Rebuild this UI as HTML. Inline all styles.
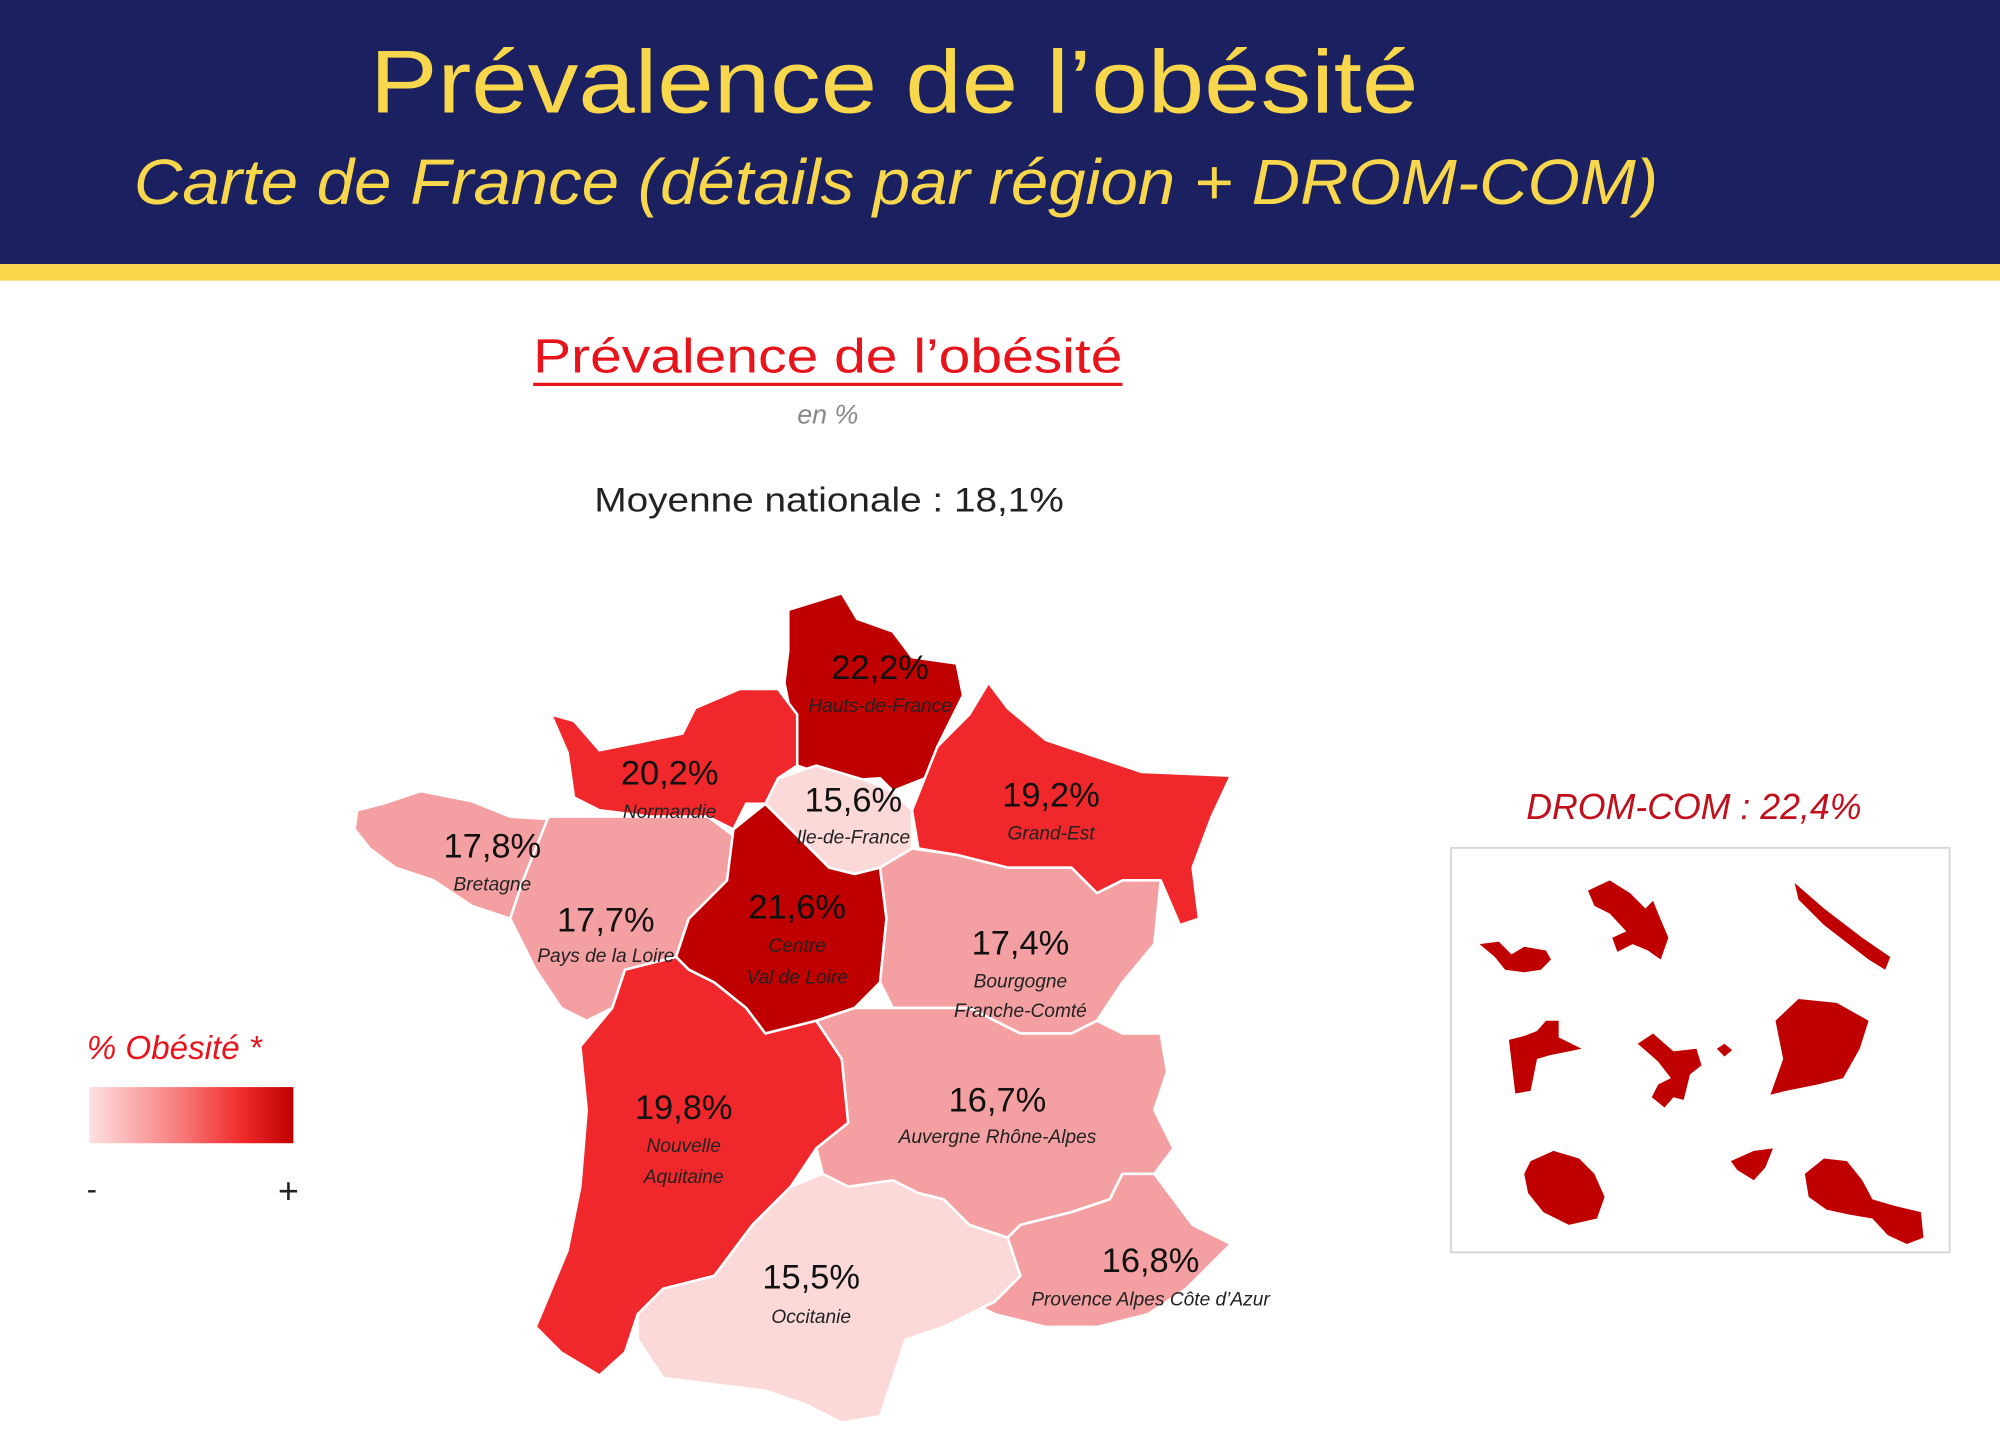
<!DOCTYPE html>
<html><head><meta charset="utf-8">
<style>
html,body{margin:0;padding:0;background:#fff;}
svg{display:block;}
text{font-family:"Liberation Sans","DejaVu Sans",sans-serif;}
</style></head>
<body>
<svg width="2000" height="1452" viewBox="0 0 1568 1138" preserveAspectRatio="none" xmlns="http://www.w3.org/2000/svg">
<defs>
<linearGradient id="g" x1="0" x2="1" y1="0" y2="0">
<stop offset="0" stop-color="#fde0e0"/><stop offset="0.45" stop-color="#f87a7a"/><stop offset="0.75" stop-color="#f02a2a"/><stop offset="1" stop-color="#c00000"/>
</linearGradient>
</defs>
<rect x="0" y="0" width="1568" height="207" fill="#1a2060"/>
<rect x="0" y="207" width="1568" height="13" fill="#f9d74c"/>
<text x="290" y="88" font-size="70" fill="#f9d74c" textLength="822" lengthAdjust="spacingAndGlyphs">Prévalence de l’obésité</text>
<text x="105" y="160" font-size="50" font-style="italic" fill="#f9d74c" textLength="1195" lengthAdjust="spacingAndGlyphs">Carte de France (détails par région + DROM-COM)</text>

<text x="418" y="292" font-size="38" fill="#e8141c" textLength="462" lengthAdjust="spacingAndGlyphs">Prévalence de l’obésité</text>
<rect x="418" y="300" width="462" height="2.5" fill="#e8141c"/>
<text x="649" y="332" font-size="21" font-style="italic" fill="#888" text-anchor="middle">en %</text>
<text x="466" y="401" font-size="27" fill="#222" textLength="368" lengthAdjust="spacingAndGlyphs">Moyenne nationale : 18,1%</text>

<g stroke="#fff" stroke-width="2" stroke-linejoin="round">
<polygon fill="#c00000" points="618,478 660,465 672,485 700,495 715,515 750,520 755,545 735,585 725,610 700,620 690,610 660,612 625,600 620,560 615,535 618,510"/>
<polygon fill="#f0282c" points="432,560 450,565 470,588 500,582 535,575 545,555 580,540 610,540 625,560 625,600 610,610 605,630 585,630 575,650 555,640 510,640 470,635 450,625 445,590"/>
<polygon fill="#f0282c" points="735,585 760,560 775,535 790,555 820,580 850,590 895,605 965,608 950,640 935,680 940,720 925,725 910,690 880,690 860,700 840,680 790,680 750,670 720,665 715,635 725,610"/>
<polygon fill="#fbd9d9" points="610,610 640,600 680,612 700,620 715,635 715,665 690,680 670,685 650,680 630,660 610,640 600,630"/>
<polygon fill="#f4a0a2" points="280,635 300,630 330,620 370,628 400,640 430,642 470,638 455,660 430,700 410,690 400,720 370,710 340,690 310,680 290,665 278,650"/>
<polygon fill="#f4a0a2" points="430,640 510,640 555,640 575,655 570,690 540,720 530,750 490,760 480,790 460,800 440,790 420,760 410,740 400,720 410,690"/>
<polygon fill="#c00000" points="575,650 600,630 630,660 650,680 670,685 690,680 695,720 690,770 670,790 640,800 600,810 585,790 560,770 540,760 530,750 540,720 570,690"/>
<polygon fill="#f4a0a2" points="690,680 715,665 750,670 790,680 840,680 860,700 880,690 910,690 905,740 880,770 860,800 840,810 800,810 760,790 720,790 700,790 690,770 695,720"/>
<polygon fill="#f0282c" points="480,790 490,760 530,750 540,760 560,770 585,790 600,810 640,800 660,830 665,880 640,900 620,930 590,960 575,980 560,1000 520,1010 500,1030 490,1060 470,1078 440,1060 420,1040 445,980 455,930 460,870 455,820"/>
<polygon fill="#fbd9d9" points="575,980 590,960 620,930 645,920 665,930 700,925 720,935 740,940 760,960 790,970 800,1000 780,1020 740,1040 710,1050 700,1080 690,1110 660,1115 630,1100 600,1090 560,1085 520,1080 500,1050 500,1030 520,1010 560,1000"/>
<polygon fill="#f4a0a2" points="700,790 720,790 760,790 800,810 840,810 860,800 880,810 910,810 915,840 905,870 920,900 905,920 880,920 870,940 840,950 800,960 790,970 760,960 740,940 720,935 700,925 665,930 645,920 640,900 665,880 660,830 640,800 670,790"/>
<polygon fill="#f4a0a2" points="790,970 800,960 840,950 870,940 880,920 905,920 920,940 935,960 965,975 950,990 930,1010 900,1030 860,1040 820,1040 780,1030 770,1025 780,1020 800,1000"/>
</g>

<g fill="#111" font-size="27" text-anchor="middle">
<text x="690" y="532">22,2%</text>
<text x="525" y="615">20,2%</text>
<text x="669" y="636">15,6%</text>
<text x="824" y="632">19,2%</text>
<text x="386" y="672">17,8%</text>
<text x="475" y="730">17,7%</text>
<text x="625" y="720">21,6%</text>
<text x="800" y="748">17,4%</text>
<text x="536" y="877">19,8%</text>
<text x="782" y="871">16,7%</text>
<text x="636" y="1010">15,5%</text>
<text x="902" y="997">16,8%</text>
</g>
<g fill="#222" font-size="15" font-style="italic" text-anchor="middle">
<text x="690" y="558">Hauts-de-France</text>
<text x="525" y="641">Normandie</text>
<text x="669" y="661">Ile-de-France</text>
<text x="824" y="658">Grand-Est</text>
<text x="386" y="698">Bretagne</text>
<text x="475" y="754">Pays de la Loire</text>
<text x="625" y="746">Centre</text>
<text x="625" y="771">Val de Loire</text>
<text x="800" y="774">Bourgogne</text>
<text x="800" y="797">Franche-Comté</text>
<text x="536" y="903">Nouvelle</text>
<text x="536" y="927">Aquitaine</text>
<text x="782" y="896">Auvergne Rhône-Alpes</text>
<text x="636" y="1037">Occitanie</text>
<text x="902" y="1023">Provence Alpes Côte d’Azur</text>
</g>

<text x="68" y="830" font-size="26" font-style="italic" fill="#e8141c">% Obésité *</text>
<rect x="70" y="852" width="160" height="44" fill="url(#g)"/>
<text x="68" y="940" font-size="24" fill="#222">-</text>
<text x="218" y="943" font-size="28" fill="#222">+</text>

<text x="1328" y="642" font-size="28" font-style="italic" fill="#c0101c" text-anchor="middle">DROM-COM : 22,4%</text>
<rect x="1137.5" y="664.5" width="391" height="317" fill="#fff" stroke="#d8d8d8" stroke-width="1.5"/>
<g fill="#c00000">
<polygon points="1160,740 1175,738 1185,748 1195,742 1212,745 1216,752 1208,760 1195,762 1180,760 1172,750"/>
<polygon points="1245,698 1262,690 1278,700 1290,712 1296,706 1300,716 1308,735 1302,752 1292,745 1280,740 1268,746 1264,735 1275,730 1262,716 1250,710"/>
<polygon points="1407,692 1430,712 1460,735 1482,750 1478,760 1465,752 1430,725 1410,705"/>
<polygon points="1183,815 1195,812 1205,808 1212,800 1222,800 1222,813 1240,822 1215,827 1205,830 1200,855 1188,857"/>
<polygon points="1284,818 1296,810 1312,824 1330,822 1334,835 1325,842 1320,862 1312,860 1305,868 1295,860 1300,850 1310,845 1300,832"/>
<polygon points="1346,822 1352,818 1358,823 1352,828"/>
<polygon points="1392,800 1410,783 1440,786 1465,800 1458,822 1445,845 1425,850 1400,855 1388,858 1398,830"/>
<polygon points="1200,910 1218,902 1238,908 1250,920 1258,938 1252,955 1230,960 1210,950 1198,935 1195,920"/>
<polygon points="1357,910 1375,902 1390,900 1384,915 1375,925 1362,917"/>
<polygon points="1415,920 1430,908 1448,910 1460,925 1468,940 1485,945 1506,950 1508,970 1495,975 1480,968 1468,955 1450,952 1432,948 1418,938"/>
</g>
</svg>
</body></html>
